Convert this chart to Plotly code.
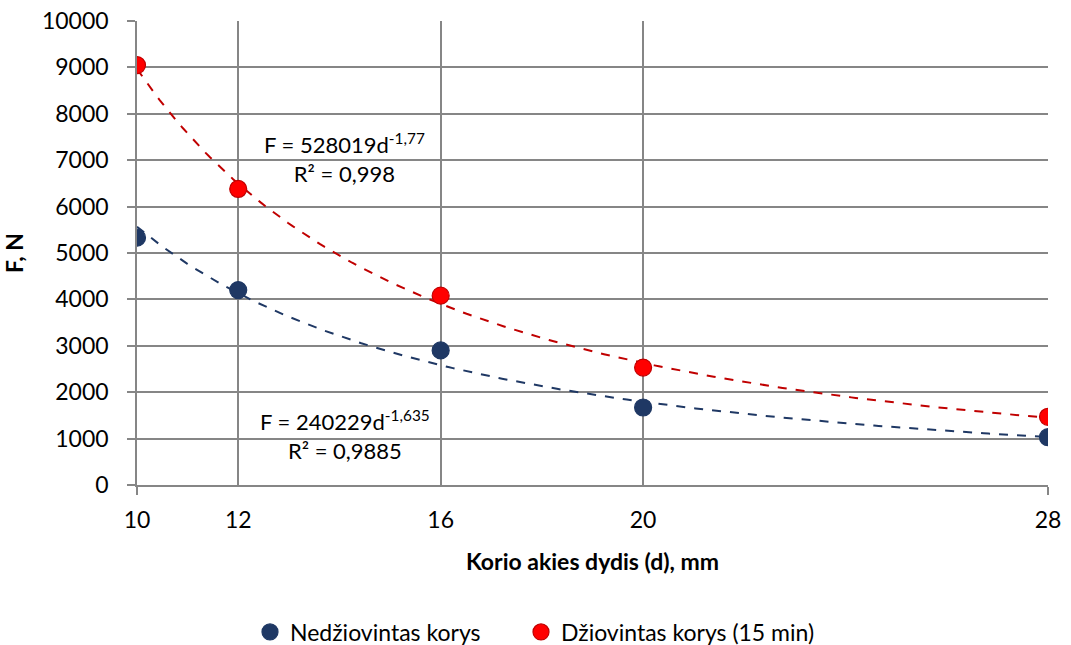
import numpy as np
import plotly.graph_objects as go

# Data
d_values = [10, 12, 16, 20, 28]
f_nedziovintas = [5330, 4200, 2900, 1670, 1030]
f_dziovintas = [9050, 6380, 4080, 2530, 1470]

series_names = ["Nedžiovintas korys", "Džiovintas korys (15 min)"]

# Power trendline coefficients as shown on the chart: F = a * d^b
trend_a = [240229, 528019]
trend_b = [-1.635, -1.77]
trend_labels = ["F = 240229d<sup>-1,635</sup><br>R² = 0,9885",
                "F = 528019d<sup>-1,77</sup><br>R² = 0,998"]
label_pos_x = [14.1, 14.1]
label_pos_y = [1080, 7050]

x_ticks = [10, 12, 16, 20, 28]
y_ticks = list(range(0, 10001, 1000))
y_ticktext = [str(v) for v in y_ticks]

FONT = "Lato, Carlito, Calibri, sans-serif"
marker_fill = ["#1F3864", "#FF0000"]
marker_line = ["#1F3864", "#C00000"]
line_colors = ["#1F3864", "#C00000"]
grid_col = "#868686"
legend_ids = ["legend", "legend2"]
legend_x_px = [250, 521]

fig = go.Figure()

xs = np.linspace(min(d_values), max(d_values), 200)
for i in range(2):
    fig.add_trace(go.Scatter(
        x=xs, y=trend_a[i] * xs ** trend_b[i], mode="lines",
        line=dict(color=line_colors[i], width=2, dash="dash"),
        showlegend=False, hoverinfo="skip"))

for i, ys in enumerate([f_nedziovintas, f_dziovintas]):
    fig.add_trace(go.Scatter(
        x=d_values, y=ys, mode="markers", name=series_names[i],
        legend=legend_ids[i],
        marker=dict(size=17, color=marker_fill[i],
                    line=dict(color=marker_line[i], width=1.2))))

for i in range(2):
    fig.add_annotation(x=label_pos_x[i], y=label_pos_y[i], xref="x", yref="y",
                       text=trend_labels[i], showarrow=False, align="center",
                       font=dict(family=FONT, size=22, color="#000"),
                       yanchor="middle", xanchor="center")

legend_common = dict(orientation="h", xanchor="left",
                     xref="container", yref="container",
                     y=1 - 632 / 645, yanchor="middle",
                     font=dict(family=FONT, size=23),
                     itemsizing="trace", itemwidth=30)

fig.update_layout(
    width=1071, height=645,
    margin=dict(l=137, r=23, t=21, b=160, autoexpand=False),
    paper_bgcolor="white", plot_bgcolor="white",
    font=dict(family=FONT, size=22, color="#000"),
    legend=dict(x=legend_x_px[0] / 1071, **legend_common),
    legend2=dict(x=legend_x_px[1] / 1071, **legend_common),
    xaxis=dict(range=[10, 28], tickvals=x_ticks, ticks="",
               showgrid=True, gridcolor=grid_col, gridwidth=2,
               showline=True, linecolor=grid_col, linewidth=1.5,
               zeroline=False, ticklabelstandoff=14,
               tickfont=dict(family=FONT, size=23),
               title=dict(text="<b>Korio akies dydis (d), mm</b>",
                          font=dict(family=FONT, size=23), standoff=22),
               minor=dict(tickvals=[10, 28], ticks="outside", ticklen=8,
                          tickcolor=grid_col, tickwidth=1.5, showgrid=False)),
    yaxis=dict(range=[0, 10000], tickvals=y_ticks, ticktext=y_ticktext,
               ticks="outside", ticklen=8,
               tickcolor=grid_col, tickwidth=1.5,
               showgrid=True, gridcolor=grid_col, gridwidth=1.5,
               showline=True, linecolor=grid_col, linewidth=1.5,
               zeroline=False, ticklabelstandoff=14,
               tickfont=dict(family=FONT, size=23),
               title=dict(text="<b>F, N</b>",
                          font=dict(family=FONT, size=23), standoff=16)),
)

fig.write_html("out.html", config={"displayModeBar": False},
               post_script="document.body.style.margin='0';")
